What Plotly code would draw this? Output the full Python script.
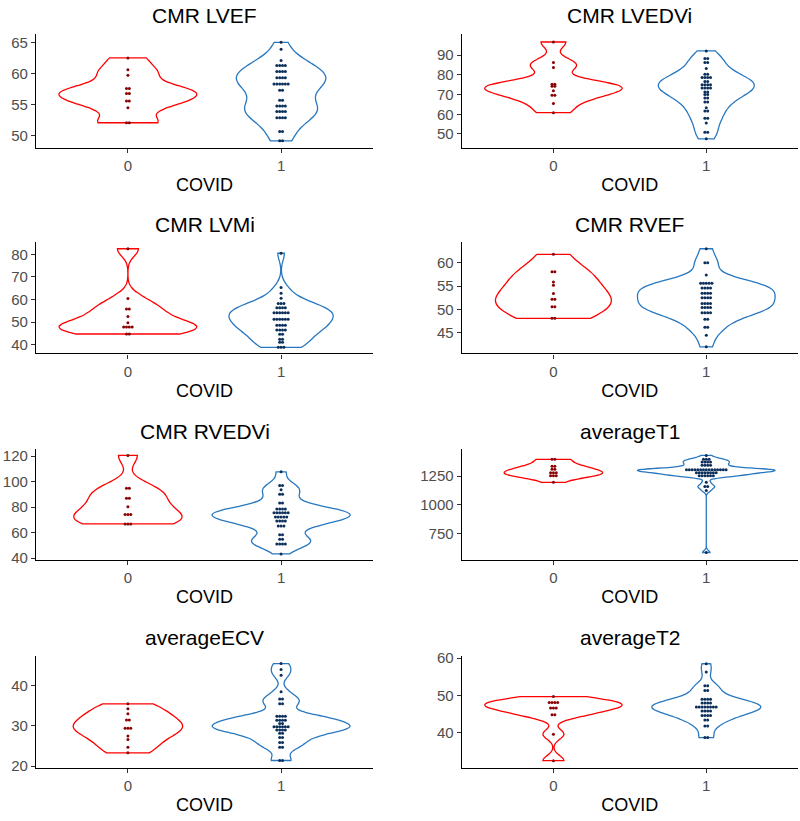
import numpy as np
import plotly.graph_objects as go

# ---------------- data ----------------
group_labels = ["0", "1"]
panel_titles = ["CMR LVEF", "CMR LVEDVi", "CMR LVMi", "CMR RVEF",
                "CMR RVEDVi", "averageT1", "averageECV", "averageT2"]

lvef_0 = [62.5, 60.6, 59.7, 57.6, 57.6, 56.8, 56.8, 55.6, 55.6, 54.5, 52.1, 52.1]
lvef_1 = [65.0, 63.9, 62.1, 61.3, 61.3, 61.3, 61.3, 60.3, 60.3, 60.3, 60.3,
          59.3, 59.3, 59.3, 59.3, 58.3, 58.3, 58.3, 58.3, 58.3, 58.3, 57.3, 57.3,
          55.7, 55.7, 54.8, 54.8, 54.8, 54.8, 53.9, 53.9, 53.9, 53.9,
          52.9, 52.9, 52.9, 52.9, 50.7, 50.7, 49.2, 49.2]

lvedvi_0 = [96.7, 86.3, 83.8, 75.3, 75.3, 74.2, 74.2, 72.0, 69.7, 69.7, 65.5, 60.8]
lvedvi_1 = [92.2, 88.3, 88.3, 86.3, 86.3, 83.3, 80.3, 80.3, 78.7, 78.7, 78.7, 78.7,
            76.7, 76.7, 75.0, 75.0, 75.0, 75.0, 73.3, 73.3, 73.3, 73.3, 71.3, 71.3,
            70.0, 70.0, 68.3, 68.3, 66.2, 66.2, 63.3, 61.7, 61.7, 58.0, 58.0, 55.5,
            50.8, 50.8, 47.5]

lvmi_0 = [82.5, 60.4, 55.8, 55.8, 52.5, 49.7, 47.8, 47.8, 47.8, 47.8, 44.7, 44.7]
lvmi_1 = [80.5, 65.3, 62.8, 60.6, 58.2, 58.2, 58.2, 56.3, 56.3, 56.3, 56.3,
          54.1, 54.1, 54.1, 54.1, 54.1, 54.1, 51.2, 51.2, 51.2, 51.2, 51.2, 51.2,
          48.6, 48.6, 48.6, 48.6, 46.5, 46.5, 46.5, 46.5, 44.6, 44.6, 42.4, 42.4,
          41.0, 41.0, 38.8, 38.8, 38.8]

rvef_0 = [61.8, 58.1, 58.1, 55.9, 55.2, 53.4, 52.2, 52.2, 50.6, 50.6, 48.1, 48.1]
rvef_1 = [63.0, 60.0, 60.0, 57.4, 55.6, 55.6, 55.6, 55.6, 55.6, 54.6, 54.6, 54.6, 54.6,
          53.5, 53.5, 53.5, 53.5, 52.5, 52.5, 52.5, 52.5, 51.3, 51.3, 51.3, 51.3,
          50.4, 50.4, 50.4, 50.4, 49.3, 49.3, 49.3, 49.3, 47.9, 47.9, 46.2, 46.2,
          44.5, 42.0]

rvedvi_0 = [120.5, 94.8, 94.8, 87.0, 87.0, 80.3, 74.2, 74.2, 74.2, 66.8, 66.8, 66.8]
rvedvi_1 = [107.6, 96.9, 96.9, 93.5, 90.1, 90.1, 83.2, 83.2, 78.6, 78.6, 78.6, 78.6,
            75.5, 75.5, 75.5, 75.5, 75.5, 75.5, 72.2, 72.2, 72.2, 72.2, 72.2,
            69.1, 69.1, 69.1, 69.1, 65.2, 65.2, 65.2, 58.3, 58.3, 54.9, 54.9,
            51.0, 51.0, 51.0, 51.0, 43.3]

t1_0 = [1396, 1396, 1336, 1336, 1310, 1310, 1279, 1279, 1279, 1253, 1253, 1253, 1196]
t1_1 = [1430, 1396, 1396, 1396, 1373, 1373, 1373, 1373, 1344, 1344, 1344, 1344,
        1305, 1305, 1305, 1305, 1305, 1305, 1305, 1305, 1305, 1305, 1305, 1305,
        1305, 1305, 1305, 1279, 1279, 1279, 1279, 1279, 1279, 1279, 1279,
        1253, 1253, 1253, 1253, 1253, 1253, 1196, 1159, 1159, 1125, 585]

ecv_0 = [35.5, 34.3, 33.0, 31.5, 31.5, 29.4, 29.4, 29.4, 27.5, 26.6, 24.7, 23.3]
ecv_1 = [45.5, 44.0, 42.6, 38.5, 36.7, 36.7, 35.5, 35.5, 32.4, 32.4, 32.4, 32.4,
         31.4, 31.4, 31.4, 31.4, 30.6, 30.6, 29.8, 29.8, 29.8, 29.8, 29.8, 29.8,
         29.0, 29.0, 29.0, 29.0, 28.2, 28.2, 27.1, 27.1, 25.9, 25.9, 24.7, 24.7,
         21.4, 21.4]

t2_0 = [49.7, 48.1, 48.1, 48.1, 48.1, 46.6, 46.6, 46.6, 44.8, 44.8, 39.6, 32.5]
t2_1 = [58.5, 56.3, 52.6, 52.6, 51.3, 51.3, 49.0, 49.0, 49.0, 49.0, 48.0, 48.0, 48.0, 48.0,
        46.9, 46.9, 46.9, 46.9, 46.9, 46.9, 46.9, 46.9, 45.8, 45.8, 45.8, 45.8,
        44.6, 44.6, 44.6, 44.6, 43.4, 43.4, 41.8, 41.8, 38.7, 38.7]

panel_data = [(lvef_0, lvef_1), (lvedvi_0, lvedvi_1), (lvmi_0, lvmi_1), (rvef_0, rvef_1),
              (rvedvi_0, rvedvi_1), (t1_0, t1_1), (ecv_0, ecv_1), (t2_0, t2_1)]

y_ranges = [[48.1, 66.4], [43, 101], [36.1, 85.4], [40.6, 64.4],
            [38.5, 125.6], [519, 1487], [19.6, 47.5], [30.6, 60.7]]
y_ticks = [[50, 55, 60, 65], [50, 60, 70, 80, 90], [40, 50, 60, 70, 80], [45, 50, 55, 60],
           [40, 60, 80, 100, 120], [750, 1000, 1250], [20, 30, 40], [40, 50, 60]]

# ---------------- styling ----------------
W, H = 800, 821
FONT = "Liberation Sans, Arial, sans-serif"
violin_colors = ["#FF0000", "#2878C0"]
dot_colors = ["#8B0000", "#0B2E5A"]
col_px = [(36, 373), (461.7, 798)]
row_px = [(28, 144), (240, 353), (450, 563), (660, 774)]
dot_step = 0.0185
max_violin_width = 0.9


def nrd0(v):
    v = np.asarray(v, dtype=float)
    sd = v.std(ddof=1)
    q75, q25 = np.percentile(v, [75, 25])
    lo = min(sd, (q75 - q25) / 1.34)
    if lo <= 0:
        lo = sd if sd > 0 else 1.0
    return 0.9 * lo * len(v) ** -0.2


def kde_max(v, bw):
    v = np.asarray(v, dtype=float)
    grid = np.linspace(v.min(), v.max(), 512)
    z = (grid[:, None] - v[None, :]) / bw
    dens = np.exp(-0.5 * z ** 2).sum(axis=1) / (len(v) * bw * np.sqrt(2 * np.pi))
    return dens.max()


def dot_positions(vals, center):
    vals = np.asarray(vals, dtype=float)
    xs, ys = [], []
    uniq, counts = np.unique(vals, return_counts=True)
    for u, k in zip(uniq, counts):
        for i in range(k):
            xs.append(center + (i - (k - 1) / 2) * dot_step)
            ys.append(u)
    return xs, ys


fig = go.Figure()
layout = dict(width=W, height=H, margin=dict(l=0, r=0, t=0, b=0), autosize=False,
              paper_bgcolor="white", plot_bgcolor="white", violinmode="overlay",
              showlegend=False, font=dict(family=FONT))
annotations = []

for p, (g0, g1) in enumerate(panel_data):
    r, c = divmod(p, 2)
    idx = "" if p == 0 else str(p + 1)
    xa, ya = "x" + idx, "y" + idx
    x0, x1 = col_px[c]
    top, bot = row_px[r]
    xdom = [x0 / W, x1 / W]
    ydom = [1 - bot / H, 1 - top / H]

    bws = [nrd0(v) for v in (g0, g1)]
    peaks = [kde_max(v, b) for v, b in zip((g0, g1), bws)]
    pmax = max(peaks)

    for g, vals in enumerate((g0, g1)):
        fig.add_trace(go.Violin(
            x=[g] * len(vals), y=vals, xaxis=xa, yaxis=ya,
            spanmode="hard", bandwidth=bws[g], points=False,
            scalegroup="p%d_g%d" % (p, g), scalemode="width",
            width=max_violin_width * peaks[g] / pmax,
            line=dict(color=violin_colors[g], width=1.3),
            fillcolor="rgba(0,0,0,0)", box_visible=False, meanline_visible=False,
            hoverinfo="skip", name=group_labels[g]))
        dx, dy = dot_positions(vals, g)
        fig.add_trace(go.Scatter(
            x=dx, y=dy, xaxis=xa, yaxis=ya, mode="markers",
            marker=dict(size=3.0, color=dot_colors[g], line=dict(width=0)),
            hoverinfo="skip"))

    axis_common = dict(showline=True, linecolor="black", linewidth=1.2, ticks="outside",
                       ticklen=4, tickwidth=1, tickcolor="#333333", showgrid=False,
                       zeroline=False, tickfont=dict(size=15, color="#4D4D4D", family=FONT))
    layout["xaxis" + idx] = dict(domain=xdom, anchor=ya, range=[-0.6, 1.6],
                                 tickvals=[0, 1], ticktext=group_labels,
                                 title=dict(text="COVID", font=dict(size=18, color="black", family=FONT), standoff=5),
                                 **axis_common)
    layout["yaxis" + idx] = dict(domain=ydom, anchor=xa, range=y_ranges[p],
                                 tickvals=y_ticks[p], **axis_common)
    annotations.append(dict(text=panel_titles[p], xref="paper", yref="paper",
                            x=(x0 + x1) / 2 / W, y=1 - (top - 18) / H,
                            xanchor="center", yanchor="middle", showarrow=False,
                            font=dict(size=21, color="black", family=FONT)))

layout["annotations"] = annotations
fig.update_layout(**layout)
fig.write_html("out.html")
